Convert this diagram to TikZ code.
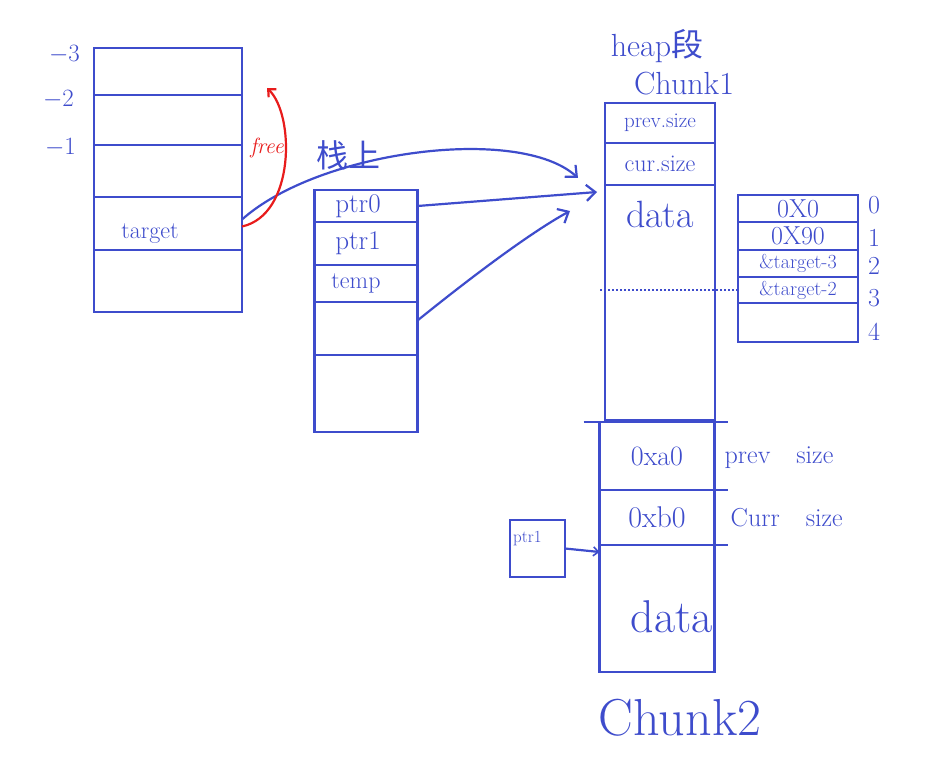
\documentclass[tikz,border=0pt]{standalone}
\usepackage{fontspec}
\newfontfamily\cjk{Noto Sans CJK SC}
\usetikzlibrary{arrows.meta}
\definecolor{pen}{RGB}{62,76,204}
\definecolor{redpen}{RGB}{232,28,28}
\tikzset{
  cell/.style args={#1x#2}{draw=pen, line width=2.2pt, minimum width=#1pt,
    minimum height=#2pt, inner sep=0pt, outer sep=0pt, text=pen},
  txt/.style={text=pen, inner sep=0pt, font=\fontsize{#1pt}{#1pt}\selectfont},
  link/.style={draw=pen, line width=2.2pt, -{Straight Barb[length=9pt,width=16pt,line width=2.2pt]}},
}
\begin{document}
\begin{tikzpicture}[x=1pt, y=-1pt]
\useasboundingbox[fill=white] (0,0) rectangle (934,770);

% stack of target
\node[cell=148x47] (s3) at (168,71.5) {};
\node[cell=148x50] (s2) at (168,120) {};
\node[cell=148x52] (s1) at (168,171) {};
\node[cell=148x53] (target) at (168,223.5) {};
\node[cell=148x62] (s0) at (168,281) {};
\node[txt=24] at ([xshift=-18pt,yshift=-10pt]target.center) {target};
\node[txt=26, anchor=east] at ([xshift=-14pt,yshift=-7pt]s3.north west) {$-3$};
\node[txt=26, anchor=east] at ([xshift=-20pt,yshift=-5pt]s2.north west) {$-2$};
\node[txt=26, anchor=east] at ([xshift=-18pt,yshift=-3pt]s1.north west) {$-1$};

% 栈上
\node[cell=103x32] (ptr0) at (366,206) {};
\node[cell=103x43] (ptr1) at (366,243.5) {};
\node[cell=103x37] (temp) at (366,283.5) {};
\node[cell=103x53] (e1) at (366,328.5) {};
\node[cell=103x77] (e2) at (366,393.5) {};
\node[txt=27] at ([xshift=-8pt]ptr0.center) {ptr0};
\node[txt=27] at ([xshift=-8pt]ptr1.center) {ptr1};
\node[txt=24] at ([xshift=-10pt]temp.center) {temp};
\node[txt=32] (stk) at (348,155) {\cjk 栈上};

% chunk1
\node[cell=110x40, txt=21] (prev) at (660,123) {prev.size};
\node[cell=110x42, txt=24] (cur) at (660,164) {cur.size};
\node[cell=110x235] (data) at (660,302.5) {};
\node[txt=38, anchor=north] at ([yshift=-16pt]data.north) {data};
\node[txt=32] (c1) at (684,84) {Chunk1};
\node[txt=32] (heap) at (657,46) {heap\cjk 段};

% array
\node[cell=120x27, txt=26] (a0) at (798,208.5) {0X0};
\node[cell=120x28, txt=26] (a1) at (798,236) {0X90};
\node[cell=120x27, txt=20] (a2) at (798,263.5) {\&target-3};
\node[cell=120x26, txt=20] (a3) at (798,290) {\&target-2};
\node[cell=120x39] (a4) at (798,322.5) {};
\foreach \i/\y in {0/205,1/238,2/266,3/298,4/332}
  \node[txt=26] at (874,\y) {\i};
\draw[pen, line width=2pt, dotted] ([xshift=-5pt]data.west |- a3.west) -- (a3.west);

% chunk2
\node[cell=115x68, txt=28] (c2prev) at (657,456) {0xa0};
\node[cell=115x55, txt=30] (c2cur) at (657,517.5) {0xb0};
\node[cell=115x127] (c2data) at (657,608.5) {};
\node[txt=46] at ([xshift=15pt,yshift=-8pt]c2data.center) {data};
\node[txt=52] (c2) at (680,718) {Chunk2};
\draw[pen, line width=2.8pt] ([xshift=-16pt]c2prev.north west) -- ([xshift=13pt]c2prev.north east);
\draw[pen, line width=2.2pt] (c2cur.north east) -- ++(13,0);
\draw[pen, line width=2.2pt] (c2data.north east) -- ++(13,0);
\node[txt=26, anchor=west] at ([xshift=10pt,yshift=-2pt]c2prev.east) {prev\quad size};
\node[txt=26, anchor=west] at ([xshift=16pt]c2cur.east) {Curr\quad size};

% ptr1 -> chunk2
\node[cell=55x57] (p1box) at (537.5,548.5) {};
\node[txt=17] at ([xshift=-10pt,yshift=10pt]p1box.center) {ptr1};
\draw[link, -{Straight Barb[length=5pt,width=9pt,line width=1.6pt]}] (p1box.east) -- ([yshift=-7pt]c2data.north west);

% arrows
\draw[link] ([yshift=4pt]target.east) .. controls (320,150) and (520,125) .. (578,178);
\draw[link] (ptr0.east) -- (597,192);
\draw[link] ([yshift=8pt]e1.east) .. controls (480,270) and (535,230) .. (570,211);
\draw[draw=redpen, line width=2.2pt, -{Straight Barb[length=6pt,width=11pt,line width=2.2pt]}]
  ([yshift=-3pt]target.east) .. controls (295,215) and (295,115) .. (267,88);
\node[text=redpen, inner sep=0pt, font=\fontsize{22pt}{22pt}\selectfont\itshape] at (267,148) {free};
\end{tikzpicture}
\end{document}
